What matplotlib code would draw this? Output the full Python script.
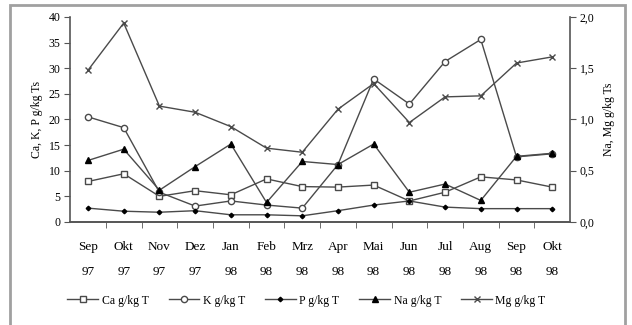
import matplotlib
matplotlib.use("Agg")
import matplotlib.pyplot as plt
from matplotlib.patches import Rectangle
from matplotlib.ticker import FuncFormatter

plt.rcParams['font.family'] = ['Liberation Serif', 'DejaVu Serif']

months = ['Sep\n97', 'Okt\n97', 'Nov\n97', 'Dez\n97', 'Jan\n98', 'Feb\n98', 'Mrz\n98',
          'Apr\n98', 'Mai\n98', 'Jun\n98', 'Jul\n98', 'Aug\n98', 'Sep\n98', 'Okt\n98']

# left axis, g/kg Ts
ca = [7.9, 9.4, 5.0, 6.1, 5.3, 8.4, 6.9, 6.8, 7.2, 4.1, 5.8, 8.8, 8.2, 6.8]
k = [20.5, 18.4, 5.8, 3.1, 4.1, 3.3, 2.7, 11.2, 27.9, 23.0, 31.3, 35.6, 12.7, 13.3]
p = [2.7, 2.1, 1.9, 2.2, 1.4, 1.4, 1.2, 2.2, 3.3, 4.1, 2.9, 2.6, 2.6, 2.6]
# right axis, g/kg Ts
na = [0.60, 0.71, 0.31, 0.54, 0.76, 0.19, 0.59, 0.56, 0.76, 0.29, 0.37, 0.21, 0.64, 0.67]
mg = [1.48, 1.94, 1.13, 1.07, 0.93, 0.72, 0.68, 1.10, 1.35, 0.97, 1.22, 1.23, 1.55, 1.61]

x = list(range(len(months)))
lc = '#4a4a4a'

fig = plt.figure(figsize=(6.32, 3.25), dpi=100)
ax = fig.add_axes([0.111, 0.317, 0.791, 0.631])
ax2 = ax.twinx()

l_ca, = ax.plot(x, ca, color=lc, lw=1, marker='s', ms=4, mfc='white', mec=lc, label='Ca g/kg T')
l_k, = ax.plot(x, k, color=lc, lw=1, marker='o', ms=4.5, mfc='white', mec=lc, label='K g/kg T')
l_p, = ax.plot(x, p, color=lc, lw=1, marker='D', ms=2.3, mfc='black', mec='black', label='P g/kg T')
l_na, = ax2.plot(x, na, color=lc, lw=1, marker='^', ms=4.5, mfc='black', mec='black', label='Na g/kg T')
l_mg, = ax2.plot(x, mg, color=lc, lw=1, marker='x', ms=4, mec=lc, label='Mg g/kg T')

ax.set_xlim(-0.5, len(months) - 0.5)
ax.set_ylim(0, 40)
ax2.set_ylim(0, 2)
ax.set_yticks(range(0, 41, 5))
ax2.set_yticks([0, 0.5, 1.0, 1.5, 2.0])
ax2.yaxis.set_major_formatter(FuncFormatter(lambda v, _: f'{v:.1f}'.replace('.', ',')))

ax.set_xticks(x)
ax.set_xticklabels(months, linespacing=2.35)
ax.set_xticks([i + 0.5 for i in x[:-1]], minor=True)
ax.tick_params(axis='x', which='major', length=0, pad=14, labelsize=9.5)
ax.tick_params(axis='x', which='minor', length=4, color='#555555')
ax.tick_params(axis='y', length=4, color='#555555', labelsize=8.5, pad=3)
ax2.tick_params(axis='y', length=4, color='#555555', labelsize=8.5, pad=3)

for a in (ax, ax2):
    a.spines['top'].set_visible(False)
    for s in ('left', 'right', 'bottom'):
        a.spines[s].set_color('#555555')
        a.spines[s].set_linewidth(1.2)
ax.spines['right'].set_visible(False)
ax2.spines['left'].set_visible(False)

ax.set_ylabel('Ca, K, P g/kg Ts', fontsize=8.5, labelpad=4)
ax2.set_ylabel('Na, Mg g/kg Ts', fontsize=8.5, labelpad=6)

fig.legend(handles=[l_ca, l_k, l_p, l_na, l_mg], loc='center', bbox_to_anchor=(0.485, 0.075),
           ncol=5, frameon=False, fontsize=8.5, handlelength=2.6, columnspacing=1.7,
           handletextpad=0.3)

fig.patches.append(Rectangle((10 / 632, -0.05), 615 / 632, 0.05 + 320 / 325,
                             transform=fig.transFigure, fill=False,
                             edgecolor='#a0a0a0', lw=2))

fig.savefig('out.png', dpi=100)
